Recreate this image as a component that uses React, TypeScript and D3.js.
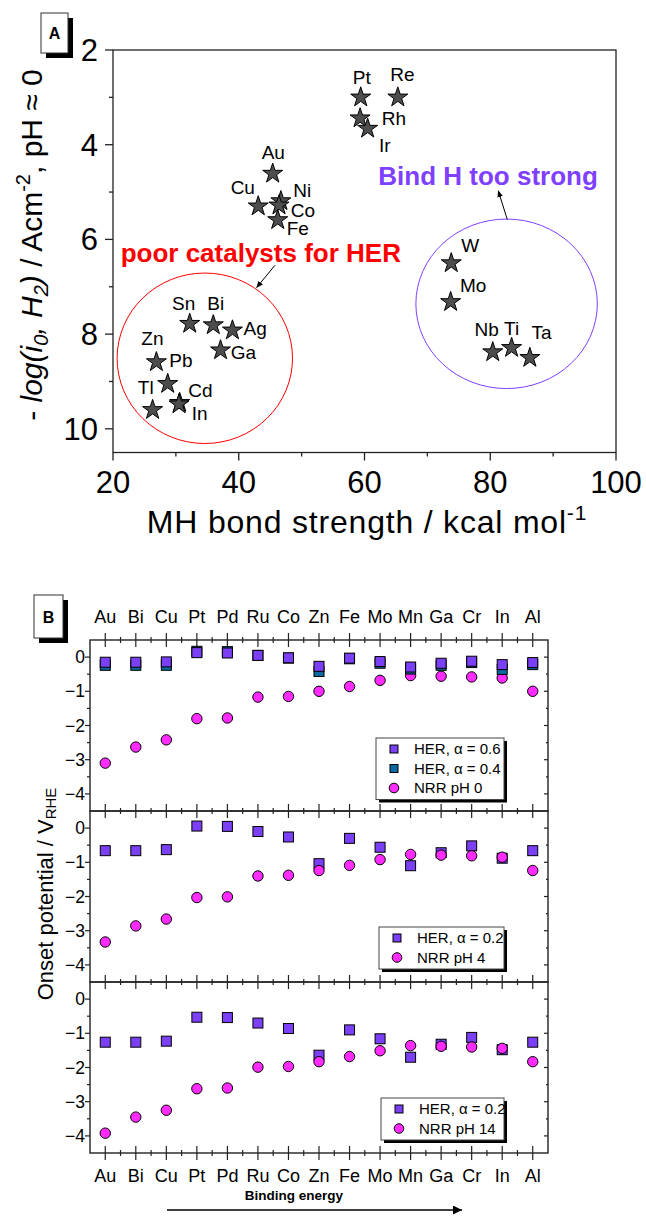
import React from "react";
import * as d3 from "d3";

const FONT = "'Liberation Sans', Arial, Helvetica, sans-serif";

// ---------- Panel A data ----------
const metalsA = ["Pt", "Re", "Rh", "Ir", "Au", "Cu", "Ni", "Co", "Fe", "Sn", "Bi", "Ag", "Ga", "Zn", "Pb", "Tl", "Cd", "In", "W", "Mo", "Nb", "Ti", "Ta"];
const bondStrength = [59.4, 65.3, 59.3, 60.5, 45.4, 43.1, 46.7, 46.4, 46.2, 32.2, 35.95, 39.0, 37.1, 26.9, 28.7, 26.3, 30.6, 30.5, 73.8, 73.7, 80.4, 83.4, 86.3];
const logI0 = [3.0, 3.0, 3.44, 3.66, 4.61, 5.3, 5.19, 5.28, 5.59, 7.78, 7.81, 7.92, 8.34, 8.59, 9.05, 9.6, 9.45, 9.48, 6.5, 7.32, 8.38, 8.29, 8.5];
const xTicksA = [20, 40, 60, 80, 100];
const yTicksA = [2, 4, 6, 8, 10];

// ---------- Panel B data ----------
const metalsB = ["Au", "Bi", "Cu", "Pt", "Pd", "Ru", "Co", "Zn", "Fe", "Mo", "Mn", "Ga", "Cr", "In", "Al"];
const her06pH0 = [-0.15, -0.15, -0.14, 0.13, 0.12, 0.05, -0.02, -0.27, -0.03, -0.13, -0.29, -0.18, -0.12, -0.22, -0.16];
const her04pH0 = [-0.24, -0.24, -0.24, 0.17, 0.16, 0.05, -0.03, -0.42, -0.05, -0.18, -0.35, -0.24, -0.16, -0.36, -0.22];
const nrrPH0 = [-3.1, -2.63, -2.42, -1.8, -1.78, -1.17, -1.15, -1.0, -0.86, -0.68, -0.54, -0.56, -0.58, -0.61, -1.0];
const her02pH4 = [-0.66, -0.66, -0.63, 0.06, 0.05, -0.1, -0.26, -1.04, -0.3, -0.56, -1.1, -0.72, -0.52, -0.88, -0.66];
const nrrPH4 = [-3.33, -2.86, -2.66, -2.03, -2.01, -1.4, -1.38, -1.24, -1.09, -0.92, -0.77, -0.79, -0.81, -0.85, -1.24];
const her02pH14 = [-1.26, -1.26, -1.23, -0.53, -0.54, -0.7, -0.86, -1.64, -0.9, -1.16, -1.7, -1.32, -1.12, -1.48, -1.26];
const nrrPH14 = [-3.92, -3.45, -3.25, -2.62, -2.6, -1.99, -1.97, -1.83, -1.68, -1.51, -1.36, -1.38, -1.4, -1.44, -1.83];
const yTicksB = [0, -1, -2, -3, -4];

const PURPLE = "#7b3ff5";
const BLUE = "#0b68a0";
const MAGENTA = "#ff2bff";
const RED = "#ff0000";
const VIOLET = "#7f3fff";

// label layout (relative to the star) for panel A
const labelLayout: Record<string, [number, number, string]> = {
  Pt: [1, -13.4, "middle"], Re: [4.5, -16, "middle"], Rh: [21.7, 7, "start"], Ir: [11.3, 23.4, "start"],
  Au: [0.6, -14.3, "middle"], Cu: [-3.3, -12, "end"], Ni: [12.3, -4, "start"], Co: [11.7, 11.7, "start"],
  Fe: [9, 15.5, "start"], Sn: [-6, -13.3, "middle"], Bi: [2.5, -15, "middle"], Ag: [11, 5, "start"],
  Ga: [10.3, 8.3, "start"], Zn: [-4, -16.7, "middle"], Pb: [1.6, -16.6, "start"], Tl: [1, -16, "end"],
  Cd: [8.7, -5.7, "start"], In: [12.7, 16.2, "start"], W: [10, -11, "start"], Mo: [9.3, -10, "start"],
  Nb: [-6, -16, "middle"], Ti: [0, -12.7, "middle"], Ta: [11.7, -19, "middle"],
};

function PanelLabel({ x, y, w, h, text }: { x: number; y: number; w: number; h: number; text: string }) {
  return (
    <g>
      <rect x={x + 5} y={y + 5} width={w} height={h} fill="#000" />
      <rect x={x} y={y} width={w} height={h} fill="#fff" stroke="#333" strokeWidth={1} />
      <text x={x + w / 2} y={y + h / 2 + 6} textAnchor="middle" fontWeight="bold" fontSize={16}>{text}</text>
    </g>
  );
}

function Legend({ x, y, w, items }: { x: number; y: number; w: number; items: { label: React.ReactNode; color: string; shape: string }[] }) {
  const rowH = 19.5;
  const h = items.length * rowH + 3;
  return (
    <g>
      <rect x={x + 3} y={y + 3} width={w} height={h} fill="#000" />
      <rect x={x} y={y} width={w} height={h} fill="#fff" stroke="#444" strokeWidth={1} />
      {items.map((it, i) => {
        const cy = y + 11 + i * rowH;
        return (
          <g key={i}>
            {it.shape === "square" ? (
              <rect x={x + 18 - 4} y={cy - 4} width={8} height={8} fill={it.color} stroke="#000" strokeWidth={1} />
            ) : (
              <circle cx={x + 18} cy={cy} r={4.8} fill={it.color} stroke="#000" strokeWidth={1} />
            )}
            <text x={x + 38} y={cy + 5} fontSize={15}>{it.label}</text>
          </g>
        );
      })}
    </g>
  );
}

export default function App() {
  const W = 646, H = 1216;

  // ---------- Panel A scales ----------
  const ax = d3.scaleLinear().domain([20, 100]).range([113, 616]);
  const ay = d3.scaleLinear().domain([2, 10.5]).range([50, 452.5]);
  const starPath = d3.symbol(d3.symbolStar, 124)() as string;
  const xMinorA = d3.range(30, 100, 20);
  const yMinorA = d3.range(3, 11, 2);

  const ell = (cx: number, cy: number, rxu: number, ryu: number) => ({
    cx: ax(cx), cy: ay(cy), rx: ax(20 + rxu) - ax(20), ry: ay(2 + ryu) - ay(2),
  });
  const redE = ell(34.6, 8.51, 13.95, 1.8);
  const violetE = ell(82.6, 7.36, 14.43, 1.79);

  // ---------- Panel B scales ----------
  const bx = d3.scaleLinear().domain([-0.5, 14.5]).range([90, 548]);
  const subH = 171;
  const subTops = [640, 811, 982];
  const bys = subTops.map((t) => d3.scaleLinear().domain([-4.5, 0.5]).range([t + subH, t]));
  const hLines = [640, 811, 982, 1153];
  const idx = d3.range(metalsB.length);
  const halfIdx = d3.range(-0.5, 14.6, 1).filter((v) => v > -0.5 && v < 14.5);
  const yMinorB = [-3.5, -2.5, -1.5, -0.5];

  const squares = (vals: number[], s: d3.ScaleLinear<number, number>, color: string) =>
    vals.map((v, i) => (
      <rect key={i} x={bx(i) - 5} y={s(v) - 5} width={10} height={10} fill={color} stroke="#000" strokeWidth={1} />
    ));
  const circles = (vals: number[], s: d3.ScaleLinear<number, number>, color: string) =>
    vals.map((v, i) => <circle key={i} cx={bx(i)} cy={s(v)} r={5.2} fill={color} stroke="#000" strokeWidth={1} />);

  return (
    <svg width={W} height={H} viewBox={`0 0 ${W} ${H}`} style={{ position: "absolute", left: 0, top: 0, background: "#fff" }} fontFamily={FONT}>
      <defs>
        <marker id="ah" viewBox="0 0 10 10" refX="9" refY="5" markerWidth="7" markerHeight="7" orient="auto-start-reverse">
          <path d="M0,1 L10,5 L0,9 z" fill="#000" />
        </marker>
        <marker id="ahBig" viewBox="0 0 10 10" refX="10" refY="5" markerWidth="6" markerHeight="6" orient="auto">
          <path d="M0,0 L10,5 L0,10 z" fill="#000" />
        </marker>
      </defs>
      <rect width={W} height={H} fill="#fff" />

      {/* ================= Panel A ================= */}
      <PanelLabel x={41} y={13} w={27} h={40} text="A" />
      <rect x={ax(20)} y={ay(2)} width={ax(100) - ax(20)} height={ay(10.5) - ay(2)} fill="none" stroke="#222" strokeWidth={1.3} />
      {yTicksA.map((t) => (
        <g key={t}>
          <line x1={ax(20) - 8} x2={ax(20)} y1={ay(t)} y2={ay(t)} stroke="#222" strokeWidth={1.3} />
          <text x={98} y={ay(t) + 11} textAnchor="end" fontSize={31}>{t}</text>
        </g>
      ))}
      {yMinorA.map((t) => (
        <line key={t} x1={ax(20) - 4} x2={ax(20)} y1={ay(t)} y2={ay(t)} stroke="#222" strokeWidth={1.3} />
      ))}
      {xTicksA.map((t) => (
        <g key={t}>
          <line x1={ax(t)} x2={ax(t)} y1={ay(10.5)} y2={ay(10.5) + 8} stroke="#222" strokeWidth={1.3} />
          <text x={ax(t)} y={493} textAnchor="middle" fontSize={31}>{t}</text>
        </g>
      ))}
      {xMinorA.map((t) => (
        <line key={t} x1={ax(t)} x2={ax(t)} y1={ay(10.5)} y2={ay(10.5) + 4} stroke="#222" strokeWidth={1.3} />
      ))}

      {/* ellipses */}
      <ellipse {...redE} fill="none" stroke={RED} strokeWidth={1} />
      <ellipse {...violetE} fill="none" stroke={VIOLET} strokeWidth={1} />

      {/* arrows */}
      <line x1={ax(45.77)} y1={ay(6.545)} x2={ax(42.85)} y2={ay(7.016)} stroke="#000" strokeWidth={1} markerEnd="url(#ah)" />
      <line x1={ax(82.71)} y1={ay(5.58)} x2={ax(81.28)} y2={ay(4.975)} stroke="#000" strokeWidth={1} markerEnd="url(#ah)" />

      {/* annotations */}
      <text x={ax(21.22)} y={ay(6.48)} fill={RED} fontWeight="bold" fontSize={26}>poor catalysts for HER</text>
      <text x={ax(62.2)} y={ay(4.85)} fill={VIOLET} fontWeight="bold" fontSize={26}>Bind H too strong</text>

      {/* stars */}
      {metalsA.map((m, i) => (
        <path key={m} d={starPath} transform={`translate(${ax(bondStrength[i])},${ay(logI0[i])})`} fill="#4d4d4d" stroke="#000" strokeWidth={1} />
      ))}
      {metalsA.map((m, i) => {
        const [dx, dy, anchor] = labelLayout[m];
        return (
          <text key={m} x={ax(bondStrength[i]) + dx} y={ay(logI0[i]) + dy} textAnchor={anchor as any} fontSize={19}>{m}</text>
        );
      })}

      {/* axis titles A */}
      <text transform="translate(42,245) rotate(-90)" textAnchor="middle" fontSize={30}>
        <tspan>- </tspan>
        <tspan fontStyle="italic">log(i</tspan>
        <tspan fontSize={20} dy={6} fontStyle="italic">0</tspan>
        <tspan fontStyle="italic" dy={-6}>, H</tspan>
        <tspan fontSize={20} dy={6} fontStyle="italic">2</tspan>
        <tspan fontStyle="italic" dy={-6}>)</tspan>
        <tspan> / Acm</tspan>
        <tspan fontSize={20} dy={-12}>-2</tspan>
        <tspan dy={12}>, pH ≈ 0</tspan>
      </text>
      <text x={367} y={533} textAnchor="middle" fontSize={32} letterSpacing={0.8}>
        <tspan>MH bond strength / kcal mol</tspan>
        <tspan fontSize={21} dy={-13}>-1</tspan>
      </text>

      {/* ================= Panel B ================= */}
      <PanelLabel x={34} y={595} w={29} h={43} text="B" />
      {subTops.map((t, k) => (
        <g key={k}>
          <rect x={bx(-0.5)} y={t} width={bx(14.5) - bx(-0.5)} height={subH} fill="none" stroke="#222" strokeWidth={1.4} />
          {yTicksB.map((v) => (
            <g key={v}>
              <line x1={bx(-0.5) - 5} x2={bx(-0.5)} y1={bys[k](v)} y2={bys[k](v)} stroke="#222" strokeWidth={1.2} />
              <line x1={bx(14.5) - 4} x2={bx(14.5)} y1={bys[k](v)} y2={bys[k](v)} stroke="#222" strokeWidth={1.2} />
              <text x={85} y={bys[k](v) + 6} textAnchor="end" fontSize={17.5}>{v === 0 ? "0" : "−" + Math.abs(v)}</text>
            </g>
          ))}
          {yMinorB.map((v) => (
            <g key={v}>
              <line x1={bx(-0.5) - 3} x2={bx(-0.5)} y1={bys[k](v)} y2={bys[k](v)} stroke="#222" strokeWidth={1.2} />
              <line x1={bx(14.5) - 2} x2={bx(14.5)} y1={bys[k](v)} y2={bys[k](v)} stroke="#222" strokeWidth={1.2} />
            </g>
          ))}
        </g>
      ))}
      {hLines.map((yy) => (
        <g key={yy}>
          {idx.map((i) => (
            <line key={i} x1={bx(i)} x2={bx(i)} y1={yy - 7} y2={yy + 7} stroke="#222" strokeWidth={1.2} />
          ))}
          {halfIdx.map((i) => (
            <line key={"m" + i} x1={bx(i)} x2={bx(i)} y1={yy - 3} y2={yy + 3} stroke="#222" strokeWidth={1.2} />
          ))}
        </g>
      ))}
      {metalsB.map((m, i) => (
        <g key={m}>
          <text x={bx(i)} y={623} textAnchor="middle" fontSize={18}>{m}</text>
          <text x={bx(i)} y={1182} textAnchor="middle" fontSize={18}>{m}</text>
        </g>
      ))}

      {/* subplot 1 */}
      {circles(nrrPH0, bys[0], MAGENTA)}
      {squares(her04pH0, bys[0], BLUE)}
      {squares(her06pH0, bys[0], PURPLE)}
      {/* subplot 2 */}
      {squares(her02pH4, bys[1], PURPLE)}
      {circles(nrrPH4, bys[1], MAGENTA)}
      {/* subplot 3 */}
      {squares(her02pH14, bys[2], PURPLE)}
      {circles(nrrPH14, bys[2], MAGENTA)}

      <Legend x={376} y={738} w={128} items={[
        { label: "HER, α = 0.6", color: PURPLE, shape: "square" },
        { label: "HER, α = 0.4", color: BLUE, shape: "square" },
        { label: "NRR pH 0", color: MAGENTA, shape: "circle" },
      ]} />
      <Legend x={379} y={927} w={125} items={[
        { label: "HER, α = 0.2", color: PURPLE, shape: "square" },
        { label: "NRR pH 4", color: MAGENTA, shape: "circle" },
      ]} />
      <Legend x={381} y={1098} w={123} items={[
        { label: "HER, α = 0.2", color: PURPLE, shape: "square" },
        { label: "NRR pH 14", color: MAGENTA, shape: "circle" },
      ]} />

      <text transform="translate(53,894) rotate(-90)" textAnchor="middle" fontSize={22}>
        <tspan>Onset potential / V</tspan>
        <tspan fontSize={15} dy={3}>RHE</tspan>
      </text>

      <text x={294} y={1200} textAnchor="middle" fontWeight="bold" fontSize={13.5}>Binding energy</text>
      <line x1={167} y1={1210} x2={462} y2={1210} stroke="#000" strokeWidth={1.5} markerEnd="url(#ahBig)" />
    </svg>
  );
}
